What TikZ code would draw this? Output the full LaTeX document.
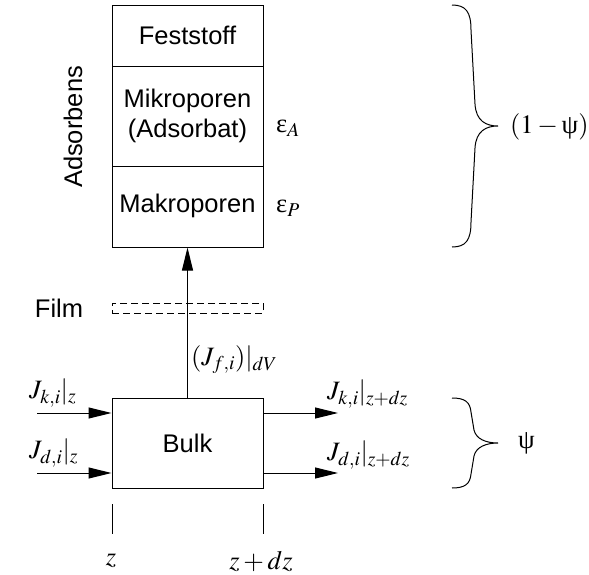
\documentclass[tikz,border=0pt]{standalone}
\usepackage{mathptmx}
\usepackage{fontspec}
\setmainfont{Liberation Sans}
\newfontfamily\grk{Liberation Serif}
\newcommand{\gpsi}{\mbox{\grk ψ}}
\newcommand{\geps}{\mbox{\grk ε}}
\usetikzlibrary{arrows.meta}
\begin{document}
\begin{tikzpicture}[x=1pt,y=-1pt,
  every node/.style={font=\fontsize{25.5}{30}\selectfont, inner sep=0pt},
  mathlbl/.style={font=\fontsize{26.5}{30}\selectfont},
  box/.style={draw, line width=1pt, minimum width=151pt, align=center},
  arr/.style={-{Triangle[length=23pt,width=11pt]}, line width=1pt},
  plain/.style={line width=1pt},
  brace/.style={line width=1pt}]
\useasboundingbox (0,0) rectangle (589,574);
% adsorbent column
\node[box, minimum height=61pt] (fest) at (187.5,35.5) {Feststoff};
\node[box, minimum height=100pt] (mikro) at (187.5,116) {Mikroporen\\(Adsorbat)};
\node[box, minimum height=81pt] (makro) at (187.5,206.5) {\raisebox{6pt}{Makroporen}};
\node[rotate=90] (ads) at (73,127) {Adsorbens};
\node[mathlbl, anchor=west] (epsA) at (276,128) {$\geps_A$};
\node[mathlbl, anchor=west] (epsP) at (276,208) {$\geps_P$};
% film
\node[draw, line width=0.9pt, dash pattern=on 7pt off 4pt, minimum width=151pt, minimum height=10pt] (film) at (187.5,308) {};
\node (filmlbl) at (59,308) {Film};
% bulk
\node[box, minimum height=90pt] (bulk) at (187.5,443) {Bulk};
\draw[arr] (bulk.north) -- (makro.south);
\node[mathlbl, anchor=west] (jf) at (191,360) {$(J_{f,i})|_{dV}$};
% in/out flows
\coordinate (kin) at (37,413);
\coordinate (din) at (37,473);
\coordinate (kout) at (338,413);
\coordinate (dout) at (338,473);
\draw[arr] (kin) -- (kin -| bulk.west);
\draw[arr] (din) -- (din -| bulk.west);
\draw[arr] (kout -| bulk.east) -- (kout);
\draw[arr] (dout -| bulk.east) -- (dout);
\node[mathlbl, anchor=west] (jkin) at (29,393) {$J_{k,i}|_z$};
\node[mathlbl, anchor=west] (jdin) at (29,453) {$J_{d,i}|_z$};
\node[mathlbl, anchor=west] (jkout) at (327,394) {$J_{k,i}|_{z+dz}$};
\node[mathlbl, anchor=west] (jdout) at (327,455) {$J_{d,i}|_{z+dz}$};
% ticks
\coordinate (t1a) at (112,504);
\coordinate (t1b) at (112,534);
\coordinate (t2a) at (263,504);
\coordinate (t2b) at (263,534);
\draw[plain] (t1a) -- (t1b);
\draw[plain] (t2a) -- (t2b);
\node[mathlbl] (zl) at (111,561) {$z$};
\node[mathlbl] (zdl) at (261,561) {$z+dz$};
% braces
\draw[brace] (452,5) .. controls (466,5) and (471,12) .. (471,30) -- (475,104)
  .. controls (476,121) and (486,126) .. (498,126)
  .. controls (486,126) and (476,131) .. (475,148) -- (471,222)
  .. controls (471,240) and (466,247) .. (452,247);
\node[mathlbl, anchor=west] (omp) at (510,127) {$(1-\gpsi)$};
\draw[brace] (452,398) .. controls (465,398) and (470,402) .. (471,412) -- (474,430)
  .. controls (476,439) and (486,443) .. (498,443)
  .. controls (486,443) and (476,447) .. (474,456) -- (471,474)
  .. controls (470,484) and (465,488) .. (452,488);
\node[mathlbl, anchor=west] (psi) at (518,443) {$\gpsi$};
\end{tikzpicture}
\end{document}
